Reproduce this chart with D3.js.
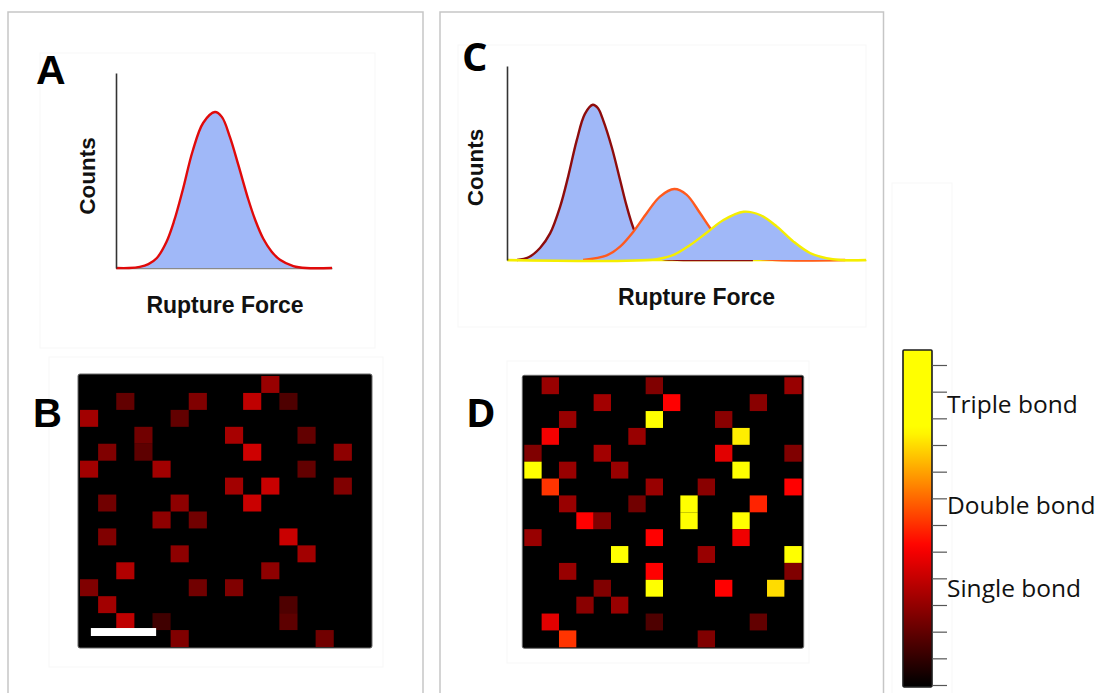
<!DOCTYPE html>
<html>
<head>
<meta charset="utf-8">
<script src="https://cdn.jsdelivr.net/npm/d3@7"></script>
<style>
  html, body { margin: 0; padding: 0; background: #ffffff; }
  svg { display: block; }
</style>
</head>
<body>
<svg id="fig" width="1102" height="693"></svg>
<script>
// ---- Rupture-force histograms: [force (a.u.), counts (a.u.)] ----
const singleHistogram = [
  [0, 0], [6, 0], [11, 0.6], [15, 2.0], [18.8, 5], [23.4, 13.5], [27, 24.5], [30.9, 40],
  [35.5, 60], [40.4, 74.5], [45.8, 80], [49, 77.5], [52.8, 67], [56.6, 53],
  [61.3, 35], [64.5, 24.5], [68.2, 15], [72, 8.5], [75.9, 4.2], [82.1, 1.0], [88, 0], [100, 0]
];
const singleBondCurve = [
  [2.8, 0], [6, 1.4], [9.2, 6.2], [12, 13.7], [14.8, 27.5], [17.1, 43.5], [19.4, 61.5],
  [21.7, 75.3], [23.9, 80], [25.3, 78.3], [26.8, 72], [29.2, 58], [31.5, 41.2],
  [33.3, 28], [35.2, 16.5], [37.2, 8.5], [39.5, 3.4], [42, 1], [46, 0.2], [50, 0], [68.5, 0]
];
const doubleBondCurve = [
  [21.2, 0], [27.8, 2.4], [31.5, 6.9], [35.2, 14.6], [38.9, 24.1], [42.6, 32.7],
  [46.6, 36.6], [50, 33.7], [53.8, 24.1], [57, 15.5], [60.3, 8.8], [64.9, 3.2],
  [69.6, 0.9], [75, 0], [94.2, 0]
];
const tripleBondCurve = [
  [0, 0], [41.7, 0.4], [46.4, 2.6], [51, 7.7], [55.7, 14.2], [60.3, 20.6], [65.9, 24.9],
  [70.5, 23.2], [75.2, 17.2], [79.8, 9.5], [84.4, 3.6], [89, 0.9], [93, 0], [100, 0]
];

// ---- Bond maps: [column, row, bond signal] on a 16 x 16 grid ----
const singleBondMap = [
  [10,0,3.1],[2,1,2.0],[6,1,2.6],[9,1,3.9],[11,1,1.6],[0,2,3.3],[5,2,2.0],[3,3,2.3],
  [8,3,3.4],[12,3,2.0],[1,4,2.6],[3,4,1.9],[9,4,4.2],[14,4,2.9],[0,5,3.3],[4,5,3.3],
  [12,5,2.0],[8,6,3.3],[10,6,4.1],[14,6,2.6],[1,7,2.3],[5,7,2.9],[9,7,4.1],[4,8,2.9],
  [6,8,2.3],[1,9,2.6],[11,9,4.1],[5,10,2.9],[12,10,3.3],[2,11,3.6],[10,11,2.9],
  [0,12,2.6],[6,12,2.3],[8,12,2.6],[1,13,3.3],[11,13,1.6],[2,14,3.9],[4,14,1.3],
  [11,14,1.9],[5,15,2.6],[13,15,2.3]
];
const multiBondMap = [
  [1,0,3.1],[7,0,2.6],[15,0,3.1],[4,1,3.3],[8,1,5.2],[13,1,2.8],[2,2,3.1],[7,2,9.6],
  [11,2,2.8],[1,3,5.0],[6,3,3.1],[12,3,9.3],[0,4,2.6],[4,4,3.3],[11,4,4.6],[15,4,2.6],
  [0,5,9.6],[2,5,3.1],[5,5,3.1],[12,5,9.6],[1,6,6.1],[7,6,3.1],[10,6,2.8],[15,6,5.2],
  [2,7,3.1],[6,7,2.3],[9,7,9.6],[13,7,5.8],[3,8,5.2],[4,8,2.6],[9,8,9.6],[12,8,9.6],
  [0,9,3.1],[7,9,5.2],[12,9,4.9],[5,10,9.6],[10,10,3.1],[15,10,9.6],[2,11,3.1],
  [7,11,5.2],[15,11,2.6],[4,12,2.6],[7,12,9.6],[11,12,5.2],[14,12,9.0],[3,13,2.8],
  [5,13,3.1],[1,14,4.6],[7,14,1.6],[13,14,2.0],[2,15,6.1],[10,15,2.6]
];

// ---- Colour bar ----
const colorStops = [0, 5.2, 9.6];
const colorStopColors = ["#000000", "#ff0000", "#ffff00"];
const colorbarTicks = [0, 1, 2, 3, 4, 5, 6, 7, 8, 9, 10, 11, 12];
const bondLabels = ["Single bond", "Double bond", "Triple bond"];
const bondLabelLevels = [3.3, 6.4, 10.2];

const panelLetters = ["A", "B", "C", "D"];
const axisTitleX = "Rupture Force";
const axisTitleY = "Counts";

// ---------------------------------------------------------------
const svg = d3.select("#fig");
const heat = d3.scaleLinear().domain(colorStops).range(colorStopColors).clamp(true);
const FILL = "#a0b8f8";
const BOLD = "'Liberation Sans', Arial, sans-serif";
const OPEN = "'Open Sans', 'Liberation Sans', sans-serif";
const smooth = d3.curveCatmullRom.alpha(0.5);

// panel frames
const frames = svg.append("g").attr("fill", "none");
frames.append("rect").attr("x", 8).attr("y", 12).attr("width", 415).attr("height", 720)
  .attr("stroke", "#c6c6c6").attr("stroke-width", 1.5);
frames.append("rect").attr("x", 440).attr("y", 12).attr("width", 443.5).attr("height", 720)
  .attr("stroke", "#c6c6c6").attr("stroke-width", 1.5);
// very faint inner boxes
[[40, 53, 335, 295], [49, 357, 334, 310], [458, 45, 408, 282], [507, 361, 302, 302], [892, 183, 60, 520]]
  .forEach(b => frames.append("rect").attr("x", b[0]).attr("y", b[1]).attr("width", b[2]).attr("height", b[3])
    .attr("stroke", "#f7f7f7").attr("stroke-width", 1));

// ---- histogram panels ----
function histogramPanel(g, x, y, curves, opts) {
  g.append("g").attr("transform", `translate(0,${y(0)})`)
    .call(d3.axisBottom(x).tickValues([]).tickSizeOuter(0))
    .call(s => s.select(".domain").attr("stroke", opts.baseColor).attr("stroke-width", 1.5));
  curves.forEach(c => {
    const area = d3.area().x(d => x(d[0])).y0(y(0)).y1(d => Math.min(y(0), y(d[1]))).curve(smooth);
    const line = d3.line().x(d => x(d[0])).y(d => y(d[1])).curve(smooth);
    g.append("path").datum(c.data).attr("d", area).attr("fill", FILL);
    g.append("path").datum(c.data).attr("d", line).attr("fill", "none")
      .attr("stroke", c.color).attr("stroke-width", 2.4).attr("stroke-linejoin", "round");
  });
  g.append("g").attr("transform", `translate(${x(0)},0)`)
    .call(d3.axisLeft(y).tickValues([]).tickSizeOuter(0))
    .call(s => s.select(".domain").attr("stroke", "#333333").attr("stroke-width", 1.6));
  g.append("text").attr("transform", `translate(${opts.yTitle[0]},${opts.yTitle[1]}) rotate(-90)`)
    .attr("text-anchor", "middle").attr("font-family", BOLD).attr("font-weight", "bold")
    .attr("font-size", 22.5).attr("fill", "#111").text(axisTitleY);
  g.append("text").attr("x", opts.xTitle[0]).attr("y", opts.xTitle[1])
    .attr("text-anchor", "middle").attr("font-family", BOLD).attr("font-weight", "bold")
    .attr("font-size", 23).attr("fill", "#111").text(axisTitleX);
}

const xA = d3.scaleLinear().domain([0, 100]).range([116, 332]);
const yA = d3.scaleLinear().domain([0, 100]).range([268, 73]);
histogramPanel(svg.append("g"), xA, yA,
  [{ data: singleHistogram, color: "#e00a0a" }],
  { baseColor: "#8a8a8a", yTitle: [95, 176], xTitle: [225, 313] });

const xC = d3.scaleLinear().domain([0, 100]).range([507, 866]);
const yC = d3.scaleLinear().domain([0, 100]).range([260, 66]);
histogramPanel(svg.append("g"), xC, yC,
  [{ data: singleBondCurve, color: "#8e0c0c" },
   { data: doubleBondCurve, color: "#ff5a1e" },
   { data: tripleBondCurve, color: "#f5ee00" }],
  { baseColor: "#f5ee00", yTitle: [483, 167.5], xTitle: [696.5, 305] });

// ---- bond maps ----
function bondMap(g, box, cells) {
  g.append("rect").attr("x", box.x - 2).attr("y", box.y - 2)
    .attr("width", box.w + 4).attr("height", box.h + 3).attr("rx", 2)
    .attr("fill", "#000").attr("stroke", "#6a6a6a").attr("stroke-width", 1);
  const cx = d3.scaleBand().domain(d3.range(16)).range([box.x, box.x + box.w]);
  const cy = d3.scaleBand().domain(d3.range(16)).range([box.y, box.y + box.h]);
  g.selectAll("rect.cell").data(cells).join("rect").attr("class", "cell")
    .attr("x", d => cx(d[0])).attr("y", d => cy(d[1]))
    .attr("width", cx.bandwidth()).attr("height", cy.bandwidth())
    .attr("fill", d => heat(d[2]));
}

bondMap(svg.append("g"), { x: 80, y: 376, w: 290, h: 271 }, singleBondMap);
// scale bar
const gxB = d3.scaleLinear().domain([0, 16]).range([80, 370]);
const gyB = d3.scaleLinear().domain([0, 16]).range([376, 647]);
svg.append("rect").attr("x", gxB(0.6)).attr("y", gyB(14.88))
  .attr("width", gxB(4.2) - gxB(0.6)).attr("height", gyB(15.35) - gyB(14.88))
  .attr("fill", "#ffffff");

bondMap(svg.append("g"), { x: 524.3, y: 377.3, w: 277.4, h: 270 }, multiBondMap);

// ---- colour bar ----
const cb = d3.scaleLinear().domain([0, 12]).range([685, 365]);
const cbTop = 12.56, cbBottom = -0.07;
const defs = svg.append("defs");
const grad = defs.append("linearGradient").attr("id", "hotGrad")
  .attr("x1", 0).attr("y1", 1).attr("x2", 0).attr("y2", 0);
d3.range(0, 41).forEach(i => {
  const v = cbBottom + (cbTop - cbBottom) * i / 40;
  grad.append("stop").attr("offset", (i / 40)).attr("stop-color", heat(v));
});
svg.append("rect").attr("x", 903).attr("y", cb(cbTop)).attr("width", 29)
  .attr("height", cb(cbBottom) - cb(cbTop))
  .attr("fill", "url(#hotGrad)").attr("stroke", "#1c1c1c").attr("stroke-width", 1.6).attr("rx", 1);
svg.append("g").attr("transform", "translate(932,0)")
  .call(d3.axisRight(cb).tickValues(colorbarTicks).tickSize(15).tickFormat(""))
  .call(s => s.select(".domain").remove())
  .call(s => s.selectAll(".tick line").attr("stroke", "#555").attr("stroke-width", 1.2));
svg.append("g").selectAll("text").data(bondLabels).join("text")
  .attr("x", 947).attr("y", (d, i) => cb(bondLabelLevels[i]))
  .attr("font-family", OPEN).attr("font-size", 24.5).attr("font-weight", 500).attr("fill", "#111")
  .text(d => d);

// ---- panel letters ----
const letterPos = [[36, 84, BOLD, 41], [33, 427, BOLD, 40], [462, 71, OPEN, 40], [466, 427, OPEN, 40]];
svg.append("g").selectAll("text").data(panelLetters).join("text")
  .attr("x", (d, i) => letterPos[i][0]).attr("y", (d, i) => letterPos[i][1])
  .attr("font-family", (d, i) => letterPos[i][2]).attr("font-size", (d, i) => letterPos[i][3])
  .attr("font-weight", "bold").attr("fill", "#000").text(d => d);
</script>
</body>
</html>
